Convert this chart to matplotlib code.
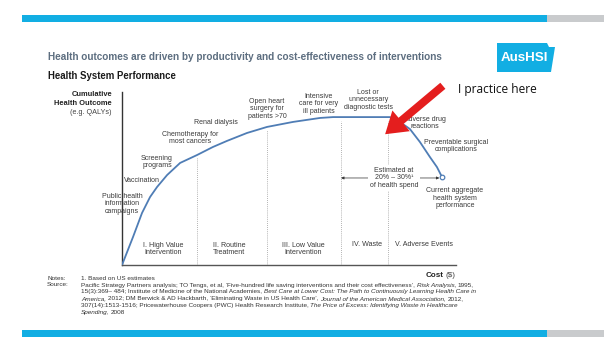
import matplotlib
matplotlib.use('Agg')
import matplotlib.pyplot as plt
from matplotlib import font_manager
from matplotlib.patches import Rectangle, Polygon, FancyArrowPatch
import numpy as np

# curve: cost (x) vs cumulative health outcome (y), both on 0-100 scale
cost = [0, 3.3, 6.0, 8.4, 10.5, 13.5, 17.4, 22.5, 27.2, 31.4, 37.4, 43.4, 51.2,
        59.3, 63.2, 73.4, 80.2, 83.2, 86.2, 89.2, 92.2, 94.3, 95.8]
outcome = [0, 16.2, 30.1, 39.3, 45.1, 52.0, 59.0, 63.6, 68.2, 71.7, 76.3, 79.8, 82.7,
           85.0, 85.5, 85.5, 85.5, 82.7, 78.6, 71.1, 62.4, 56.6, 50.9]

dividers = [22.5, 43.4, 65.6, 79.6]
regions = ['I. High Value\nIntervention', 'II. Routine\nTreatment',
           'III. Low Value\nIntervention', 'IV. Waste', 'V. Adverse Events']
region_x = [12.3, 32.0, 54.2, 73.4, 90.4]
region_y = [9.2, 9.2, 9.2, 11.6, 11.6]

interventions = ['Public health\ninformation\ncampaigns', 'Vaccination', 'Screening\nprograms',
                 'Chemotherapy for\nmost cancers', 'Renal dialysis',
                 'Open heart\nsurgery for\npatients >70', 'Intensive\ncare for very\nill patients',
                 'Lost or\nunnecessary\ndiagnostic tests', 'Adverse drug\nreactions',
                 'Preventable surgical\ncomplications']
interv_x = [0, 6.0, 10.5, 20.4, 28.1, 43.4, 59.0, 73.7, 90.7, 100.0]
interv_y = [35.3, 48.6, 59.5, 73.4, 82.1, 90.2, 93.1, 95.4, 82.1, 68.8]

waste_span = [65.6, 95.5]
waste_y = 50.3

source_lines = [
    [("Pacific Strategy Partners analysis; TO Tengs, et al, \u2018Five-hundred life saving interventions and their cost effectiveness\u2019,", 'normal'),
     ("Risk Analysis,", 'italic'), ("1995,", 'normal')],
    [("15(3):369\u2013 484; Institute of Medicine of the National Academies,", 'normal'),
     ("Best Care at Lower Cost: The Path to Continuously Learning Health Care in", 'italic')],
    [("America,", 'italic'), ("2012; DM Berwick & AD Hackbarth, \u2018Eliminating Waste in US Health Care\u2019,", 'normal'),
     ("Journal of the American Medical Association,", 'italic'), ("2012,", 'normal')],
    [("307(14):1513-1516; Pricewaterhouse Coopers (PWC) Health Research Institute,", 'normal'),
     ("The Price of Excess: Identifying Waste in Healthcare", 'italic')],
    [("Spending,", 'italic'), ("2008", 'normal')],
]

W, H = 610, 360
BLUE = '#12aee3'
GREY_BAR = '#c9cbcd'
CURVE = '#4f7db5'
TXT = '#3a3a3a'


def fx(px):
    return px / W


def fy(py):
    return 1 - py / H


plt.rcParams['font.family'] = ['Liberation Sans', 'DejaVu Sans']

fig = plt.figure(figsize=(6.1, 3.6), dpi=100)
fig.patch.set_facecolor('white')

# slide bars
for y0 in (15, 330):
    fig.patches.append(Rectangle((fx(22), fy(y0 + 7)), (547 - 22) / W, 7 / H,
                                 transform=fig.transFigure, color=BLUE, lw=0))
    fig.patches.append(Rectangle((fx(547), fy(y0 + 7)), (604 - 547) / W, 7 / H,
                                 transform=fig.transFigure, color=GREY_BAR, lw=0))

# titles
fig.text(fx(48), fy(57), 'Health outcomes are driven by productivity and cost-effectiveness of interventions',
         fontsize=7.2, fontweight='bold', color='#5d6e80', va='center')
fig.text(fx(48), fy(76), 'Health System Performance', fontsize=6.9, fontweight='bold',
         color='#1a1a1a', va='center')

# logo
logo = Polygon([(fx(497), fy(43)), (fx(547), fy(43)), (fx(549), fy(47)), (fx(555), fy(47)),
                (fx(551), fy(72)), (fx(497), fy(72))], closed=True,
               transform=fig.transFigure, color=BLUE, lw=0)
fig.patches.append(logo)
try:
    font_manager.findfont(font_manager.FontProperties(family='Liberation Sans Narrow'),
                          fallback_to_default=False)
    logo_family, logo_fs = ['Liberation Sans Narrow'], 12
except ValueError:
    logo_family, logo_fs = ['Liberation Sans'], 9.6
fig.text(fx(524), fy(58), 'AusHSI', fontsize=logo_fs, fontweight='bold', color='white',
         ha='center', va='center', family=logo_family)

fig.text(fx(458), fy(90), 'I practice here', fontsize=8.6, color='#111111',
         va='center', family=['Open Sans', 'DejaVu Sans'])

# axis label
fig.text(fx(112), fy(99), 'Cumulative\nHealth Outcome', fontsize=5.4, fontweight='bold',
         color='#222222', ha='right', va='center', linespacing=1.25)
fig.text(fx(112), fy(113), '(e.g. QALYs)', fontsize=5.2, color='#444444', ha='right', va='center')

ax = fig.add_axes([fx(122), fy(265), (456 - 122) / W, (265 - 92) / H])
ax.set_xlim(0, 100)
ax.set_ylim(0, 100)
for s in ('top', 'right'):
    ax.spines[s].set_visible(False)
ax.spines['left'].set_color('#333333')
ax.spines['bottom'].set_color('#555555')
ax.spines['left'].set_linewidth(1.0)
ax.spines['bottom'].set_linewidth(1.0)
ax.set_xticks([])
ax.set_yticks([])

for d in dividers:
    top = np.interp(d, cost[:16], outcome[:16]) - 2
    ax.vlines(d, 0, top, colors='#9a9a9a', linestyles=(0, (1, 1.5)), lw=0.6)

ax.plot(cost, outcome, color=CURVE, lw=1.3, solid_capstyle='round', zorder=3)
ax.plot(cost[-1], outcome[-1], 'o', mfc='white', mec=CURVE, ms=3.3, mew=0.9, zorder=4)

for lab, x, y in zip(interventions, interv_x, interv_y):
    ax.text(x, y, lab, fontsize=5.0, color=TXT, ha='center', va='center',
            linespacing=1.15, clip_on=False)

for lab, x, y in zip(regions, region_x, region_y):
    ax.text(x, y, lab, fontsize=5.1, color=TXT, ha='center', va='center', linespacing=1.15)

# waste span arrow
ax.annotate('', xy=(waste_span[0], waste_y), xytext=(waste_span[1] - 0.5, waste_y),
            arrowprops=dict(arrowstyle='<|-|>', color='#333333', lw=0.5,
                            mutation_scale=4, shrinkA=0, shrinkB=0))
ax.text(81.4, waste_y, 'Estimated at\n20% \u2013 30%\u00b9\nof health spend', fontsize=5.0,
        color=TXT, ha='center', va='center', linespacing=1.15,
        bbox=dict(facecolor='white', edgecolor='none', pad=1.0), zorder=5)
ax.text(99.7, 38.7, 'Current aggregate\nhealth system\nperformance', fontsize=5.0,
        color=TXT, ha='center', va='center', linespacing=1.15, clip_on=False)

ax.text(96.3, -5.8, 'Cost', fontsize=5.8, fontweight='bold', color='#222222',
        ha='right', va='center', clip_on=False)
ax.text(96.8, -5.8, '($)', fontsize=5.8, color='#444444', ha='left', va='center', clip_on=False)

# red arrow
arrow = FancyArrowPatch((fx(445), fy(84)), (fx(383), fy(136)), transform=fig.transFigure,
                        arrowstyle='simple,head_length=1.0,head_width=1.3,tail_width=0.38',
                        mutation_scale=15, color='#e41e1e', lw=0)
fig.patches.append(arrow)

# notes
renderer = fig.canvas.get_renderer()
NOTE_FS = 4.6


def draw_runs(x_px, y_px, runs):
    gap_t = fig.text(0, 0, 'a a', fontsize=NOTE_FS)
    nogap_t = fig.text(0, 0, 'aa', fontsize=NOTE_FS)
    gap = gap_t.get_window_extent(renderer).width - nogap_t.get_window_extent(renderer).width
    gap_t.remove()
    nogap_t.remove()
    x = x_px
    for s, style in runs:
        t = fig.text(fx(x), fy(y_px), s, fontsize=NOTE_FS, fontstyle=style,
                     color='#333333', va='center')
        bb = t.get_window_extent(renderer)
        x = bb.x1 + gap


fig.text(fx(47), fy(278), 'Notes:', fontsize=NOTE_FS, color='#333333', va='center')
fig.text(fx(47), fy(285), 'Source:', fontsize=NOTE_FS, color='#333333', va='center')
fig.text(fx(81), fy(278), '1. Based on US estimates', fontsize=NOTE_FS, color='#333333', va='center')
for i, runs in enumerate(source_lines):
    draw_runs(81, 285 + i * 6.8, runs)

fig.savefig('out.png', dpi=100, facecolor='white')
